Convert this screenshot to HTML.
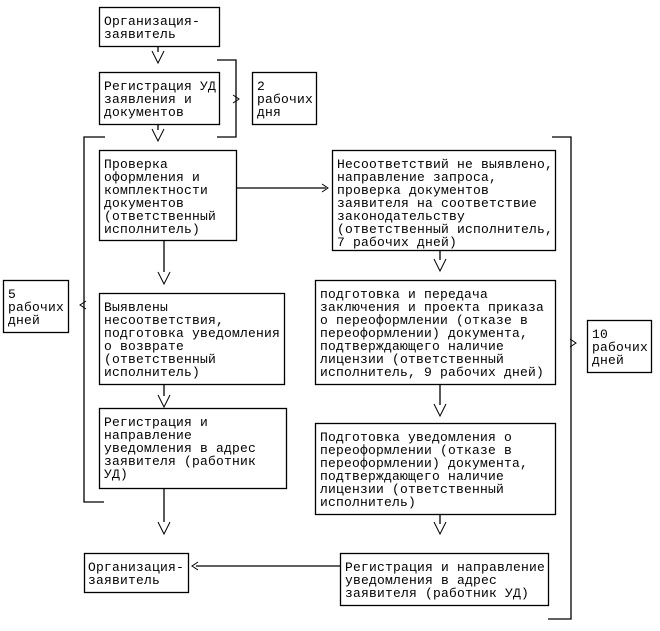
<!DOCTYPE html>
<html><head><meta charset="utf-8"><style>
html,body{margin:0;padding:0;background:#fff;}
svg text{font-family:"Liberation Mono","DejaVu Sans Mono",monospace;font-size:13px;letter-spacing:0.2px;fill:#000;}
</style></head><body>
<svg width="660" height="626" xmlns="http://www.w3.org/2000/svg">
<g fill="none" stroke="#000" stroke-width="1.3">
<rect x="99.5" y="7.5" width="120" height="39"/>
<rect x="99.5" y="72.5" width="120" height="52"/>
<rect x="252.5" y="72.5" width="64" height="52"/>
<rect x="99.5" y="150.5" width="137" height="90"/>
<rect x="332.5" y="150.5" width="223" height="100"/>
<rect x="3.5" y="280.5" width="65" height="52"/>
<rect x="99.5" y="293.5" width="185" height="91"/>
<rect x="315.5" y="280.5" width="240" height="104"/>
<rect x="587.5" y="320.5" width="64" height="52"/>
<rect x="99.5" y="408.5" width="187" height="80"/>
<rect x="315.5" y="423.5" width="240" height="91"/>
<rect x="84.5" y="553.5" width="104" height="39"/>
<rect x="340.5" y="553.5" width="208" height="52"/>
<polyline points="217,60 236,60 236,137 217,137"/>
<polyline points="105,137 84,137 84,502 104,502"/>
<polyline points="552,137 571,137 571,619 548,619"/>
<line x1="236" y1="188" x2="326" y2="188"/>
<line x1="164" y1="240" x2="164" y2="272"/>
<line x1="164" y1="384" x2="164" y2="396"/>
<line x1="164" y1="488" x2="164" y2="522"/>
<line x1="440" y1="250" x2="440" y2="260"/>
<line x1="440" y1="384" x2="440" y2="405"/>
<line x1="440" y1="514" x2="440" y2="524"/>
<line x1="340" y1="566" x2="196" y2="566"/>
<line x1="158" y1="46" x2="158" y2="52"/>
<line x1="158" y1="124" x2="158" y2="130"/>
</g>
<g fill="none" stroke="#000" stroke-width="1">
<polyline points="152,51 158,63 164,51"/>
<polyline points="152,129 158,141 164,129"/>
<polyline points="158,272 164,284 170,272"/>
<polyline points="158,395 164,407 170,395"/>
<polyline points="158,522 164,534 170,522"/>
<polyline points="434,259 440,271 446,259"/>
<polyline points="434,404 440,416 446,404"/>
<polyline points="434,522 440,534 446,522"/>
<polyline points="322,184 328,188 322,192"/>
<polyline points="198,562 192,566 198,570"/>
<polyline points="233,95 239,99 233,103"/>
<polyline points="86,301 80,305 86,309"/>
<polyline points="570,339 576,343 570,347"/>
</g>
<text x="104" y="25">Организация-</text>
<text x="104" y="38">заявитель</text>
<text x="104" y="90">Регистрация УД</text>
<text x="104" y="103">заявления и</text>
<text x="104" y="116">документов</text>
<text x="257" y="90">2</text>
<text x="257" y="103">рабочих</text>
<text x="257" y="116">дня</text>
<text x="104" y="168">Проверка</text>
<text x="104" y="181">оформления и</text>
<text x="104" y="194">комплектности</text>
<text x="104" y="207">документов</text>
<text x="104" y="220">(ответственный</text>
<text x="104" y="233">исполнитель)</text>
<text x="337" y="168">Несоответствий не выявлено,</text>
<text x="337" y="181">направление запроса,</text>
<text x="337" y="194">проверка документов</text>
<text x="337" y="207">заявителя на соответствие</text>
<text x="337" y="220">законодательству</text>
<text x="337" y="233">(ответственный исполнитель,</text>
<text x="337" y="246">7 рабочих дней)</text>
<text x="8" y="298">5</text>
<text x="8" y="311">рабочих</text>
<text x="8" y="324">дней</text>
<text x="104" y="311">Выявлены</text>
<text x="104" y="324">несоответствия,</text>
<text x="104" y="337">подготовка уведомления</text>
<text x="104" y="350">о возврате</text>
<text x="104" y="363">(ответственный</text>
<text x="104" y="376">исполнитель)</text>
<text x="320" y="298">подготовка и передача</text>
<text x="320" y="311">заключения и проекта приказа</text>
<text x="320" y="324">о переоформлении (отказе в</text>
<text x="320" y="337">переоформлении) документа,</text>
<text x="320" y="350">подтверждающего наличие</text>
<text x="320" y="363">лицензии (ответственный</text>
<text x="320" y="376">исполнитель, 9 рабочих дней)</text>
<text x="592" y="338">10</text>
<text x="592" y="351">рабочих</text>
<text x="592" y="364">дней</text>
<text x="104" y="426">Регистрация и</text>
<text x="104" y="439">направление</text>
<text x="104" y="452">уведомления в адрес</text>
<text x="104" y="465">заявителя (работник</text>
<text x="104" y="478">УД)</text>
<text x="320" y="441">Подготовка уведомления о</text>
<text x="320" y="454">переоформлении (отказе в</text>
<text x="320" y="467">переоформлении) документа,</text>
<text x="320" y="480">подтверждающего наличие</text>
<text x="320" y="493">лицензии (ответственный</text>
<text x="320" y="506">исполнитель)</text>
<text x="88" y="571">Организация-</text>
<text x="88" y="584">заявитель</text>
<text x="345" y="571">Регистрация и направление</text>
<text x="345" y="584">уведомления в адрес</text>
<text x="345" y="597">заявителя (работник УД)</text>
</svg>
</body></html>
